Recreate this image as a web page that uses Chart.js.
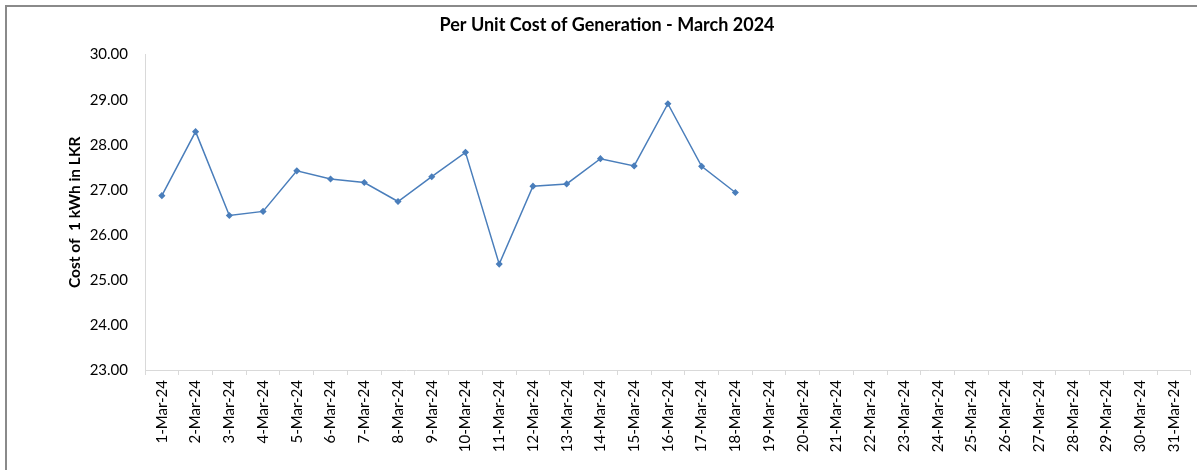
<!doctype html>
<html lang="en">
<head>
<meta charset="utf-8">
<title>Per Unit Cost of Generation - March 2024</title>
<script src="https://cdn.jsdelivr.net/npm/chart.js"></script>
<style>
  body{margin:0;background:#fff;overflow:hidden;width:1197px;height:470px}
  #frame{position:absolute;left:5px;top:5px;width:1300px;height:600px;
         border-left:2px solid #8a8a8a;border-top:2px solid #8a8a8a}
  #wrap{position:absolute;left:0;top:0;width:1197px;height:470px}
</style>
</head>
<body>
<div id="frame"></div>
<div id="wrap"><canvas id="chart"></canvas></div>

<script>
/* ---------- data ------------------------------------------------------ */
const days = [...Array(31).keys()].map(i => (i + 1) + '-Mar-24');
const costPerKWh = [26.87, 28.29, 26.43, 26.52, 27.42, 27.24, 27.16, 26.74, 27.29,
                    27.83, 25.35, 27.08, 27.13, 27.69, 27.53, 28.91, 27.52, 26.94];
const yMin = 23, yMax = 30;

/* ---------- chart ----------------------------------------------------- */
const FONT = 'Lato, "Open Sans", sans-serif';
const axisGrey = '#d9d9d9';

new Chart(document.getElementById('chart'), {
  type: 'line',
  data: {
    labels: days,
    datasets: [{
      label: 'Cost per kWh',
      data: costPerKWh,
      borderColor: '#4a7ebb',
      backgroundColor: '#4a7ebb',
      borderWidth: 1.5,
      pointStyle: 'rectRot',
      pointRadius: 2.5,
      tension: 0,
      fill: false
    }]
  },
  options: {
    responsive: true,
    maintainAspectRatio: false,
    animation: false,
    layout: {padding: {left: 22, right: 5, top: 0, bottom: 0}},
    plugins: {
      legend: {display: false},
      tooltip: {enabled: false},
      title: {
        display: true,
        text: 'Per Unit Cost of Generation - March 2024',
        color: '#000',
        font: {family: FONT, size: 18, weight: 'bold'},
        padding: {top: 14, bottom: 19}
      }
    },
    scales: {
      x: {
        offset: true,
        grid: {offset: true, drawOnChartArea: false, tickLength: 5, color: axisGrey},
        border: {color: axisGrey},
        ticks: {minRotation: 90, maxRotation: 90, autoSkip: false, padding: 5,
                color: '#000', font: {family: FONT, size: 15}},
        afterFit: s => { s.height = 100; }
      },
      y: {
        min: yMin, max: yMax,
        grid: {drawOnChartArea: false, drawTicks: false},
        border: {display: true, color: axisGrey},
        ticks: {stepSize: 1, padding: 17, color: '#000',
                font: {family: FONT, size: 15},
                callback: v => v.toFixed(2)},
        title: {display: true, text: 'Cost of  1 kWh in LKR', color: '#000',
                font: {family: FONT, size: 15.5, weight: 'bold'},
                padding: {top: 44, bottom: 0}},
        afterFit: s => { s.width = 123; }
      }
    }
  }
});
</script>
</body>
</html>
